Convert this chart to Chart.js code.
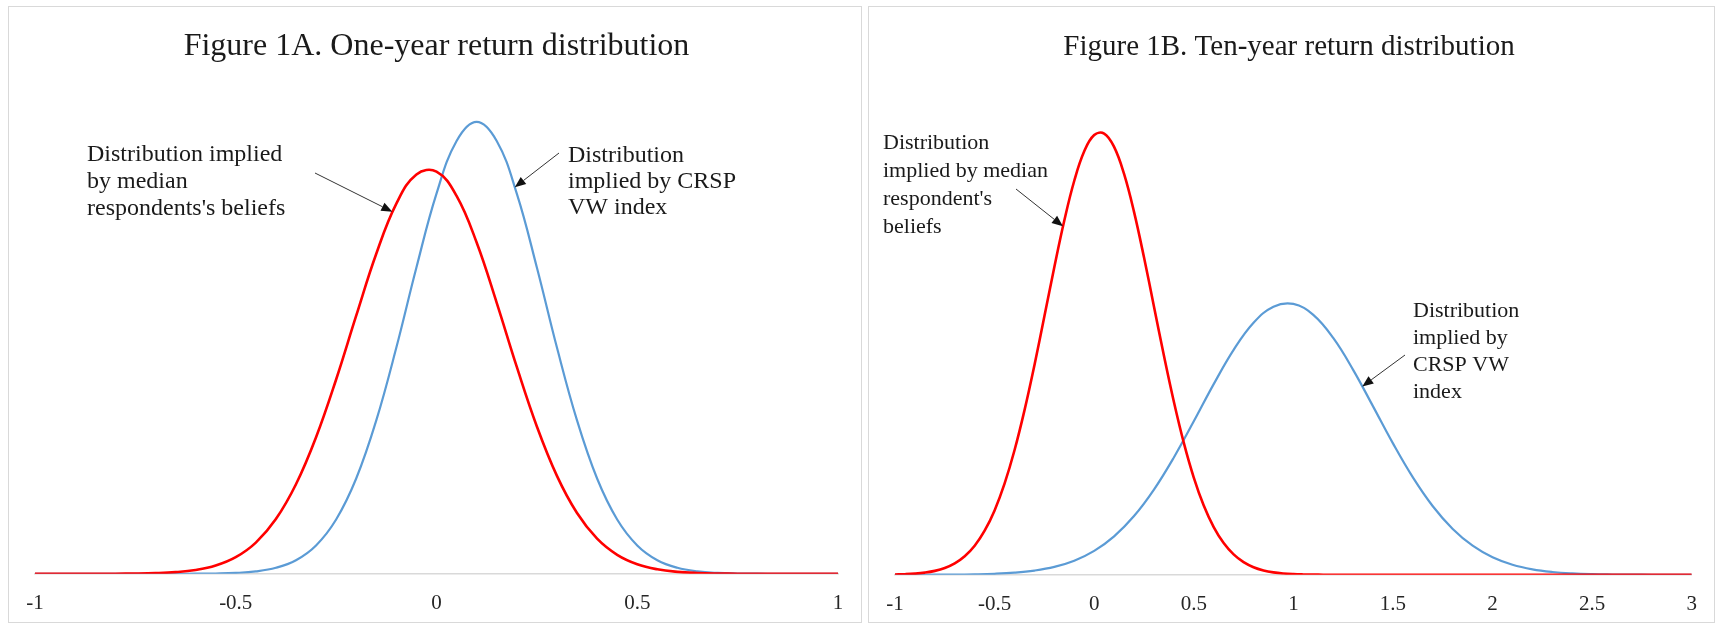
<!DOCTYPE html>
<html>
<head>
<meta charset="utf-8">
<script src="https://cdn.jsdelivr.net/npm/chart.js@4/dist/chart.umd.min.js"></script>
<style>
  body { margin: 0; background: #fff; width: 1715px; height: 624px; overflow: hidden; position: relative; }
  .panel { position: absolute; top: 6px; height: 615px; border: 1px solid #d9d9d9; background: #fff; overflow: hidden; }
  #panelA { left: 8px; width: 852px; }
  #panelB { left: 868px; width: 845px; }
  canvas { display: block; }
</style>
</head>
<body>
<div class="panel" id="panelA"><canvas id="chartA" width="852" height="630"></canvas></div>
<div class="panel" id="panelB"><canvas id="chartB" width="845" height="630"></canvas></div>
<script>
// Figure 1A - one-year returns
let titleA = 'Figure 1A. One-year return distribution';
let xA = [-1, -0.95, -0.9, -0.85, -0.8, -0.75, -0.7, -0.65, -0.6, -0.55, -0.5, -0.45, -0.4, -0.35, -0.3, -0.25, -0.2, -0.15, -0.1, -0.05,
  0, 0.05, 0.1, 0.15, 0.2, 0.25, 0.3, 0.35, 0.4, 0.45, 0.5, 0.55, 0.6, 0.65, 0.7, 0.75, 0.8, 0.85, 0.9, 0.95, 1];
let redA = [0, 0, 0, 0.0002, 0.0005, 0.0013, 0.0035, 0.0086, 0.0199, 0.0429, 0.0863, 0.1621, 0.2842, 0.4647, 0.7089, 1.0089, 1.3402, 1.6615, 1.9216, 2.0736,
  2.0881, 1.962, 1.7199, 1.407, 1.074, 0.765, 0.5085, 0.3154, 0.1823, 0.0985, 0.0496, 0.0233, 0.0102, 0.0042, 0.0016, 0.0006, 0.0002, 0.0001, 0, 0, 0];
let blueA = [0, 0, 0, 0, 0, 0, 0, 0.0001, 0.0005, 0.0016, 0.0046, 0.0125, 0.0311, 0.0706, 0.1473, 0.282, 0.4946, 0.7963, 1.1747, 1.5904,
  1.9738, 2.2473, 2.3467, 2.2473, 1.9738, 1.5904, 1.1747, 0.7963, 0.4946, 0.282, 0.1473, 0.0706, 0.0311, 0.0125, 0.0046, 0.0016, 0.0005, 0.0001, 0, 0, 0];
let ticksA = [-1, -0.5, 0, 0.5, 1];
let tickLabelsA = ['-1', '-0.5', '0', '0.5', '1'];
let noteRedA = ['Distribution implied', 'by median', "respondents's beliefs"];
let noteBlueA = ['Distribution', 'implied by CRSP', 'VW index'];

// Figure 1B - ten-year returns
let titleB = 'Figure 1B. Ten-year return distribution';
let xRedB = [-1, -0.95, -0.9, -0.85, -0.8, -0.75, -0.7, -0.65, -0.6, -0.55, -0.5, -0.45, -0.4, -0.35, -0.3, -0.25, -0.2, -0.15, -0.1, -0.05,
  0, 0.05, 0.1, 0.15, 0.2, 0.25, 0.3, 0.35, 0.4, 0.45, 0.5, 0.55, 0.6, 0.65, 0.7, 0.75, 0.8, 0.85, 0.9, 0.95,
  1, 1.05, 1.1, 1.15, 1.2, 1.25, 1.3, 1.5, 2, 2.5, 3];
let redB = [0.001, 0.002, 0.0039, 0.0073, 0.0131, 0.0228, 0.0382, 0.0619, 0.0971, 0.1472, 0.2151, 0.3043, 0.4158, 0.5491, 0.7001, 0.8631, 1.0278, 1.1831, 1.3159, 1.4141,
  1.4685, 1.4736, 1.4288, 1.3386, 1.2119, 1.0602, 0.8962, 0.732, 0.5779, 0.4406, 0.3248, 0.2313, 0.1593, 0.1059, 0.0681, 0.0422, 0.0253, 0.0147, 0.0082, 0.0044,
  0.0023, 0.0012, 0.0006, 0.0003, 0.0001, 0, 0, 0, 0, 0, 0];
let xBlueB = [-1, -0.9, -0.8, -0.7, -0.6, -0.5, -0.4, -0.3, -0.2, -0.1, 0, 0.1, 0.2, 0.3, 0.4, 0.5, 0.6, 0.7, 0.8, 0.9,
  1, 1.1, 1.2, 1.3, 1.4, 1.5, 1.6, 1.7, 1.8, 1.9, 2, 2.1, 2.2, 2.3, 2.4, 2.5, 2.6, 2.7, 2.8, 2.9, 3];
let blueB = [0, 0.0001, 0.0003, 0.0007, 0.0016, 0.0034, 0.0071, 0.0141, 0.0264, 0.0471, 0.0798, 0.1284, 0.1961, 0.2845, 0.3919, 0.5125, 0.6367, 0.7511, 0.8415, 0.8953,
  0.9046, 0.868, 0.7909, 0.6844, 0.5624, 0.4388, 0.3253, 0.229, 0.1531, 0.0971, 0.0585, 0.0335, 0.0182, 0.0094, 0.0046, 0.0021, 0.001, 0.0004, 0.0002, 0.0001, 0];
let ticksB = [-1, -0.5, 0, 0.5, 1, 1.5, 2, 2.5, 3];
let tickLabelsB = ['-1', '-0.5', '0', '0.5', '1', '1.5', '2', '2.5', '3'];
let noteRedB = ['Distribution', 'implied by median', "respondent's", 'beliefs'];
let noteBlueB = ['Distribution', 'implied by', 'CRSP VW', 'index'];

const SERIF = "'Liberation Serif', 'DejaVu Serif', serif";

// text + arrow callouts, arrow tip given in data units
const notesPlugin = {
    id: 'notes',
    afterDraw(chart, args, opts) {
        let ctx = chart.ctx;
        let xs = chart.scales.x;
        let ys = chart.scales.y;
        (opts.items || []).forEach(n => {
            ctx.save();
            ctx.font = opts.font;
            ctx.fillStyle = '#1a1a1a';
            ctx.textBaseline = 'alphabetic';
            n.lines.forEach((t, i) => ctx.fillText(t, n.x, n.y + i * n.lh));

            let tx = xs.getPixelForValue(n.tip[0]);
            let ty = ys.getPixelForValue(n.tip[1]);
            let fx = n.tail[0], fy = n.tail[1];
            let ang = Math.atan2(ty - fy, tx - fx);
            let hl = 11, hw = 4.5;
            let bx = tx - hl * Math.cos(ang);
            let by = ty - hl * Math.sin(ang);
            ctx.strokeStyle = '#333';
            ctx.lineWidth = 1;
            ctx.beginPath();
            ctx.moveTo(fx, fy);
            ctx.lineTo(bx, by);
            ctx.stroke();
            ctx.beginPath();
            ctx.moveTo(tx, ty);
            ctx.lineTo(bx + hw * Math.sin(ang), by - hw * Math.cos(ang));
            ctx.lineTo(bx - hw * Math.sin(ang), by + hw * Math.cos(ang));
            ctx.closePath();
            ctx.fillStyle = '#111';
            ctx.fill();
            ctx.restore();
        });
    }
};

function makeChart(canvasId, cfg) {
    let ctx = document.getElementById(canvasId).getContext('2d');
    return new Chart(ctx, {
        type: 'line',
        data: {
            datasets: [
                {
                    label: 'Median respondent',
                    data: cfg.xsRed.map((x, i) => ({ x: x, y: cfg.red[i] })),
                    borderColor: '#ff0000',
                    borderWidth: 2.6,
                    pointRadius: 0,
                    tension: 0.4,
                    fill: false,
                },
                {
                    label: 'CRSP VW index',
                    data: cfg.xsBlue.map((x, i) => ({ x: x, y: cfg.blue[i] })),
                    borderColor: '#5b9bd5',
                    borderWidth: 2.2,
                    pointRadius: 0,
                    tension: 0.4,
                    fill: false,
                }
            ]
        },
        options: {
            responsive: false,
            animation: false,
            layout: { padding: cfg.pad },
            scales: {
                x: {
                    type: 'linear',
                    min: cfg.ticks[0],
                    max: cfg.ticks[cfg.ticks.length - 1],
                    afterBuildTicks: s => { s.ticks = cfg.ticks.map(v => ({ value: v })); },
                    grid: { display: false, drawTicks: false, tickLength: 0 },
                    border: { display: true, color: '#d9d9d9', width: 1.5 },
                    ticks: {
                        padding: 17,
                        maxRotation: 0,
                        autoSkip: false,
                        color: '#262626',
                        font: { family: SERIF, size: 21 },
                        callback: (v, i) => cfg.tickLabels[i]
                    }
                },
                y: {
                    display: true, min: 0, max: cfg.yMax,
                    grid: { display: false, drawTicks: false },
                    border: { display: false },
                    ticks: { display: false },
                    afterFit: s => { s.width = cfg.yWidth; }
                }
            },
            plugins: {
                legend: { display: false },
                tooltip: { enabled: false },
                title: {
                    display: true,
                    text: cfg.title,
                    color: '#1a1a1a',
                    font: { family: SERIF, size: cfg.titleSize, weight: 'normal' },
                    padding: cfg.titlePad
                },
                notes: { font: cfg.noteSize + 'px ' + SERIF, items: cfg.notes }
            }
        },
        plugins: [notesPlugin]
    });
}

makeChart('chartA', {
    title: titleA, titleSize: 32, titlePad: { top: 20.8, bottom: 6.8 },
    xsRed: xA, red: redA, xsBlue: xA, blue: blueA, ticks: ticksA, tickLabels: tickLabelsA,
    yMax: 2.6, yWidth: 0,
    pad: { left: 26, right: 23, top: 0, bottom: 4 },
    noteSize: 24,
    notes: [
        { lines: noteRedA, x: 78, y: 154, lh: 27, tail: [306, 166], tip: [-0.11, 1.88] },
        { lines: noteBlueA, x: 559, y: 155, lh: 26, tail: [550, 146], tip: [0.195, 2.007] }
    ]
});

makeChart('chartB', {
    title: titleB, titleSize: 29, titlePad: { top: 22.6, bottom: 7.3 },
    xsRed: xRedB, red: redB, xsBlue: xBlueB, blue: blueB, ticks: ticksB, tickLabels: tickLabelsB,
    yMax: 1.68, yWidth: 18,
    pad: { left: 8, right: 13, top: 0, bottom: 3 },
    noteSize: 22,
    notes: [
        { lines: noteRedB, x: 14, y: 142, lh: 28, tail: [147, 182], tip: [-0.157, 1.164] },
        { lines: noteBlueB, x: 544, y: 310, lh: 27, tail: [536, 348], tip: [1.346, 0.629] }
    ]
});
</script>
</body>
</html>
